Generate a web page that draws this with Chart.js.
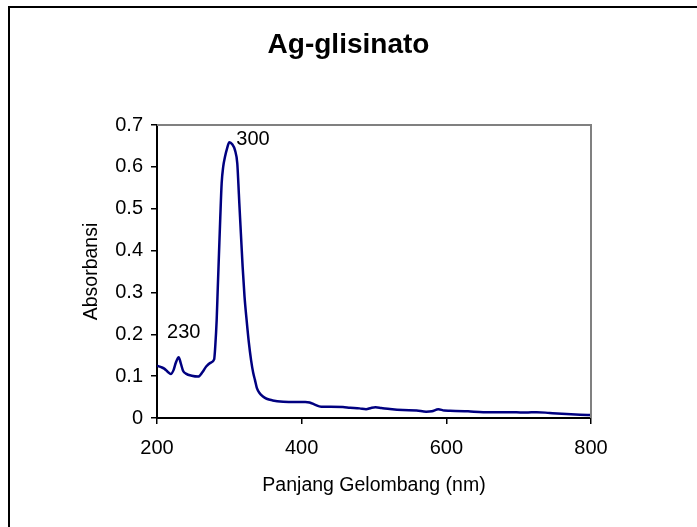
<!DOCTYPE html>
<html>
<head>
<meta charset="utf-8">
<title>Ag-glisinato</title>
<script src="https://cdn.jsdelivr.net/npm/chart.js@4/dist/chart.umd.min.js"></script>
<style>
  html, body { margin: 0; padding: 0; background: #ffffff; }
  #wrap { position: relative; width: 697px; height: 527px; overflow: hidden; }
  #frame { position: absolute; left: 8px; top: 6px; width: 800px; height: 600px;
           border-left: 2px solid #000; border-top: 2px solid #000; }
  canvas { position: absolute; left: 0; top: 0; }
</style>
</head>
<body>
<div id="wrap">
  <div id="frame"></div>
  <canvas id="chart" width="697" height="527"></canvas>
</div>
<script>
// UV-Vis spectrum of the Ag-glycinate complex
const wavelength = [200, 205, 210, 215, 219, 223, 226, 230, 233, 236, 240, 248, 257, 263, 268, 274, 279, 280.5, 282.5, 284, 285.7, 287.5, 289.4, 291.5, 294, 297, 300, 304, 307.8, 311, 312.5, 313.8, 316, 318.4, 321, 323.9, 327, 330, 333, 335.4, 338, 342, 346, 351.5, 360, 374.5, 390, 405, 411, 418, 427, 440, 457, 467, 480, 489, 496, 502, 510, 522, 540, 559, 572, 580, 589, 597, 605, 630, 651, 670, 697, 710, 725, 743, 766, 785, 800];
const absorbance = [0.125, 0.122, 0.118, 0.110, 0.105, 0.115, 0.132, 0.145, 0.130, 0.113, 0.106, 0.101, 0.099, 0.110, 0.123, 0.132, 0.140, 0.170, 0.234, 0.310, 0.393, 0.480, 0.561, 0.600, 0.624, 0.645, 0.659, 0.654, 0.640, 0.608, 0.560, 0.513, 0.440, 0.361, 0.290, 0.234, 0.180, 0.139, 0.108, 0.091, 0.072, 0.059, 0.052, 0.046, 0.042, 0.039, 0.038, 0.038, 0.037, 0.032, 0.027, 0.027, 0.026, 0.0245, 0.023, 0.021, 0.024, 0.0255, 0.024, 0.0215, 0.019, 0.018, 0.015, 0.016, 0.021, 0.018, 0.0175, 0.016, 0.014, 0.014, 0.0135, 0.013, 0.014, 0.012, 0.0096, 0.008, 0.007];

// Absorption maxima marked on the curve
const peakNm = [230, 300];
const peakLabelOffset = [[5, -25], [7, -3]];
const peakAlign = ['center', 'left'];

const xTicks = [200, 400, 600, 800];
const yTicks = [0, 0.1, 0.2, 0.3, 0.4, 0.5, 0.6, 0.7];

const FONT = "'Liberation Sans', Arial, sans-serif";

const points = wavelength.map((w, i) => ({ x: w, y: absorbance[i] }));

// Gray frame on the top and right edges of the plot area
const plotFrame = {
  id: 'plotFrame',
  afterDatasetsDraw(chart) {
    const { ctx, chartArea: a } = chart;
    ctx.save();
    ctx.strokeStyle = '#808080';
    ctx.lineWidth = 2;
    ctx.beginPath();
    ctx.moveTo(a.left, a.top);
    ctx.lineTo(a.right, a.top);
    ctx.lineTo(a.right, a.bottom);
    ctx.stroke();
    ctx.restore();
  }
};

// Wavelength labels next to the absorption maxima
const peakLabels = {
  id: 'peakLabels',
  afterDatasetsDraw(chart) {
    const { ctx, scales } = chart;
    ctx.save();
    ctx.font = '20px ' + FONT;
    ctx.fillStyle = '#000';
    ctx.textBaseline = 'middle';
    peakNm.forEach((nm, k) => {
      const i = wavelength.indexOf(nm);
      const px = scales.x.getPixelForValue(nm);
      const py = scales.y.getPixelForValue(absorbance[i]);
      ctx.textAlign = peakAlign[k];
      ctx.fillText(String(nm), px + peakLabelOffset[k][0], py + peakLabelOffset[k][1]);
    });
    ctx.restore();
  }
};

new Chart(document.getElementById('chart'), {
  type: 'line',
  data: {
    datasets: [{
      data: points,
      borderColor: '#000080',
      borderWidth: 2.5,
      pointRadius: 0,
      fill: false,
      cubicInterpolationMode: 'monotone'
    }]
  },
  options: {
    responsive: false,
    animation: false,
    events: [],
    layout: { padding: 0 },
    plugins: {
      legend: { display: false },
      tooltip: { enabled: false },
      title: {
        display: true,
        text: 'Ag-glisinato',
        color: '#000',
        font: { family: FONT, size: 28, weight: 'bold' },
        padding: { top: 28, bottom: 63.4 }
      }
    },
    scales: {
      x: {
        type: 'linear',
        min: 200,
        max: 800,
        afterBuildTicks(scale) { scale.ticks = xTicks.map(v => ({ value: v })); },
        afterFit(scale) { scale.height = 109; },
        ticks: { color: '#000', font: { family: FONT, size: 20 }, padding: 12 },
        grid: { drawOnChartArea: false, drawTicks: true, tickLength: 6, color: '#000', lineWidth: 1.5 },
        border: { display: true, color: '#000', width: 2 },
        title: { display: true, text: 'Panjang Gelombang (nm)', color: '#000',
                 font: { family: FONT, size: 19.5 }, padding: { top: 4, bottom: 30 } }
      },
      y: {
        min: 0,
        max: 0.7,
        afterBuildTicks(scale) { scale.ticks = yTicks.map(v => ({ value: v })); },
        afterFit(scale) { scale.width = 157; },
        ticks: { color: '#000', font: { family: FONT, size: 20 }, padding: 8,
                 callback: v => String(Math.round(v * 10) / 10) },
        grid: { drawOnChartArea: false, drawTicks: true, tickLength: 6, color: '#000', lineWidth: 1.5 },
        border: { display: true, color: '#000', width: 2 },
        title: { display: true, text: 'Absorbansi', color: '#000',
                 font: { family: FONT, size: 19.5 }, padding: { top: 80, bottom: 4 } }
      },
      // empty margin to the right of the plot area
      margin: {
        position: 'right',
        min: 0,
        max: 1,
        afterFit(scale) { scale.width = 106; },
        ticks: { display: false },
        grid: { display: false },
        border: { display: false }
      }
    }
  },
  plugins: [plotFrame, peakLabels]
});
</script>
</body>
</html>
